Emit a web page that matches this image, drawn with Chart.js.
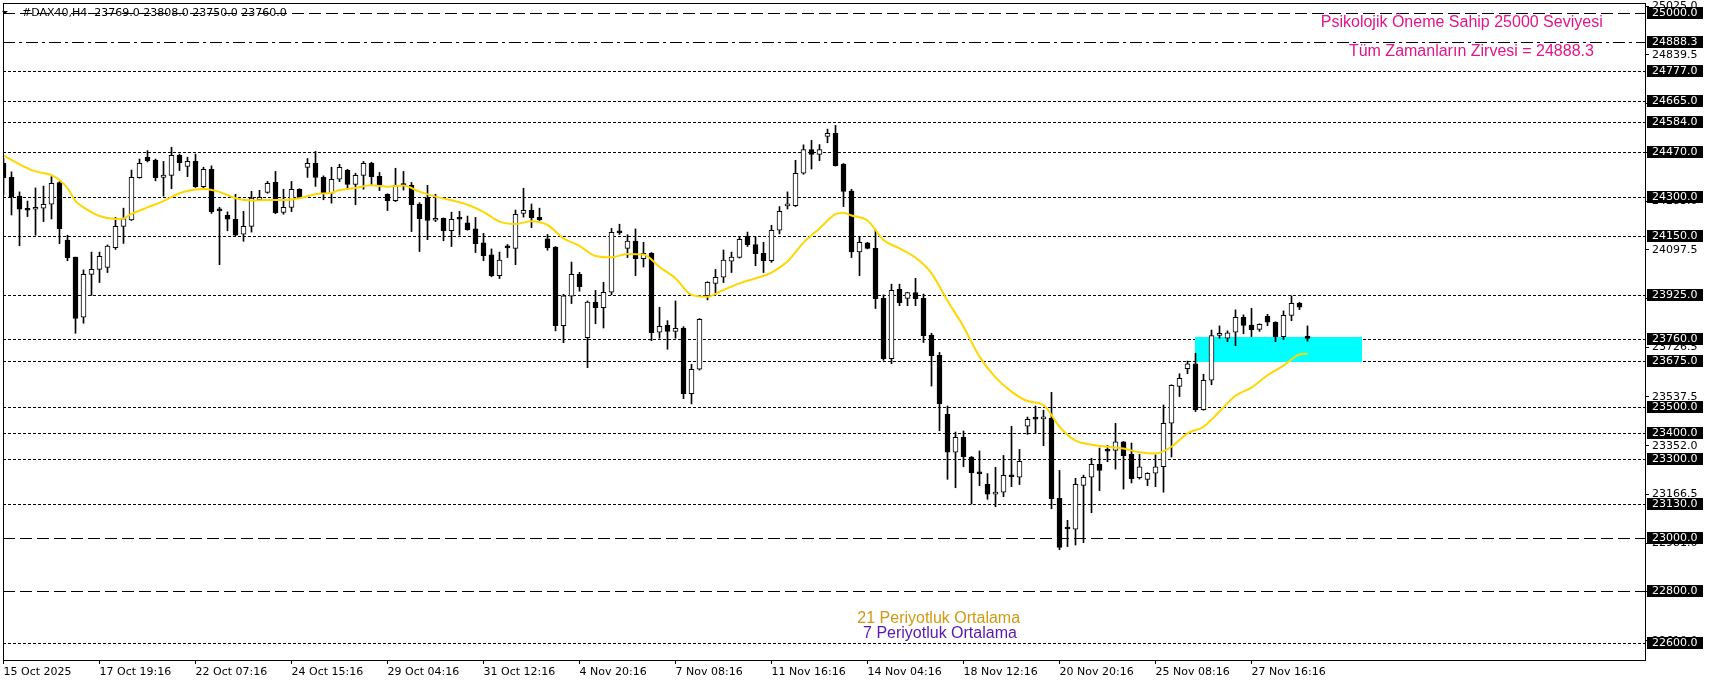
<!DOCTYPE html>
<html>
<head>
<meta charset="utf-8">
<script src="https://cdn.jsdelivr.net/npm/chart.js@4.4.1/dist/chart.umd.min.js"></script>
<style>
  html, body { margin: 0; padding: 0; background: #fff; }
</style>
</head>
<body>
<canvas id="chart" width="1709" height="684"></canvas>
<script>
// #DAX40 H4 candles, 15 Oct - 28 Nov 2025
const opens = [
  24427, 24373, 24302, 24250, 24252, 24256, 24271, 24353, 24135, 24070,
  23841, 24004, 24023, 24031, 24106, 24187, 24211, 24372, 24450, 24439,
  24373, 24381, 24457, 24415, 24434, 24338, 24404, 24248, 24229, 24214,
  24157, 24187, 24288, 24316, 24354, 24240, 24259, 24328, 24411, 24427,
  24373, 24313, 24366, 24400, 24346, 24381, 24427, 24377, 24309, 24285,
  24347, 24343, 24272, 24294, 24210, 24217, 24170, 24216, 24200, 24177,
  24124, 24078, 23999, 24107, 24103, 24236, 24249, 24221, 24139, 24108,
  23809, 23921, 24004, 23763, 23899, 23877, 23936, 24164, 24103, 24131,
  24064, 24085, 23784, 23810, 23787, 23800, 23550, 23643, 23923, 23970,
  23993, 24054, 24069, 24150, 24117, 24084, 24056, 24172, 24265, 24266,
  24389, 24479, 24461, 24529, 24541, 24424, 24321, 24090, 24124, 24103,
  23913, 23683, 23947, 23913, 23935, 23913, 23772, 23696, 23471, 23327,
  23384, 23309, 23247, 23205, 23168, 23175, 23236, 23232, 23426, 23455,
  23454, 23457, 23152, 23037, 23034, 23201, 23232, 23281, 23333, 23334,
  23367, 23319, 23230, 23224, 23247, 23272, 23438, 23578, 23645, 23664,
  23489, 23601, 23772, 23761, 23784, 23841, 23811, 23795, 23844, 23822,
  23767, 23848, 23894, 23769
];
const highs = [
  24446, 24394, 24318, 24283, 24333, 24340, 24376, 24357, 24153, 24070,
  24021, 24089, 24089, 24116, 24221, 24256, 24401, 24443, 24475, 24443,
  24434, 24488, 24462, 24450, 24462, 24412, 24417, 24259, 24242, 24309,
  24244, 24320, 24324, 24358, 24396, 24328, 24358, 24330, 24445, 24472,
  24379, 24412, 24423, 24404, 24389, 24434, 24431, 24392, 24311, 24408,
  24396, 24354, 24277, 24343, 24309, 24219, 24241, 24244, 24226, 24221,
  24160, 24101, 24089, 24118, 24249, 24332, 24272, 24256, 24156, 24110,
  23928, 24051, 24012, 23903, 23943, 23974, 24179, 24195, 24155, 24177,
  24126, 24087, 23879, 23828, 23903, 23805, 23662, 23836, 23976, 24023,
  24097, 24089, 24148, 24165, 24146, 24126, 24191, 24262, 24318, 24438,
  24497, 24514, 24498, 24557, 24571, 24426, 24328, 24146, 24126, 24173,
  23926, 23967, 23967, 23936, 23989, 23929, 23780, 23707, 23503, 23404,
  23408, 23311, 23332, 23246, 23270, 23315, 23426, 23338, 23461, 23503,
  23487, 23555, 23258, 23068, 23228, 23240, 23304, 23343, 23353, 23437,
  23368, 23362, 23319, 23249, 23317, 23507, 23584, 23626, 23674, 23704,
  23624, 23792, 23808, 23789, 23869, 23850, 23875, 23816, 23852, 23824,
  23865, 23922, 23898, 23808
];
const lows = [
  24306, 24230, 24113, 24224, 24153, 24205, 24215, 24121, 24056, 23780,
  23818, 23924, 23973, 24011, 24099, 24122, 24209, 24370, 24432, 24360,
  24302, 24330, 24399, 24376, 24335, 24332, 24236, 24041, 24170, 24151,
  24130, 24165, 24285, 24313, 24235, 24233, 24243, 24292, 24373, 24339,
  24288, 24275, 24357, 24329, 24269, 24328, 24346, 24323, 24247, 24281,
  24325, 24167, 24091, 24136, 24205, 24132, 24110, 24153, 24172, 24087,
  24056, 23995, 23988, 24068, 24041, 24222, 24182, 24209, 24096, 23789,
  23744, 23893, 23940, 23649, 23816, 23800, 23926, 24156, 24068, 23999,
  24032, 23752, 23761, 23719, 23761, 23531, 23511, 23640, 23907, 23926,
  23973, 24011, 24066, 24110, 24037, 24011, 24050, 24158, 24253, 24262,
  24385, 24405, 24437, 24505, 24416, 24262, 24068, 23999, 24101, 23874,
  23677, 23664, 23885, 23885, 23885, 23745, 23579, 23409, 23224, 23192,
  23272, 23130, 23200, 23148, 23120, 23158, 23196, 23204, 23395, 23399,
  23352, 23112, 22956, 22968, 22974, 22983, 23097, 23181, 23291, 23263,
  23187, 23210, 23225, 23200, 23196, 23175, 23309, 23539, 23626, 23482,
  23487, 23584, 23761, 23748, 23733, 23778, 23767, 23787, 23809, 23748,
  23756, 23828, 23870, 23750
];
const closes = [
  24372, 24300, 24252, 24248, 24253, 24271, 24351, 24178, 24068, 23836,
  24004, 24023, 24073, 24112, 24187, 24216, 24373, 24427, 24437, 24372,
  24382, 24457, 24429, 24434, 24338, 24404, 24243, 24246, 24214, 24153,
  24187, 24294, 24297, 24351, 24239, 24259, 24328, 24294, 24427, 24373,
  24313, 24366, 24411, 24346, 24381, 24427, 24376, 24343, 24285, 24343,
  24342, 24269, 24216, 24209, 24217, 24170, 24214, 24214, 24174, 24121,
  24075, 23999, 24058, 24105, 24233, 24248, 24219, 24211, 24106, 23809,
  23922, 24004, 23957, 23899, 23877, 23936, 24164, 24162, 24131, 24064,
  24084, 23782, 23806, 23787, 23799, 23550, 23643, 23833, 23974, 23993,
  24058, 24070, 24137, 24117, 24083, 24056, 24172, 24244, 24267, 24389,
  24479, 24461, 24479, 24541, 24418, 24320, 24090, 24126, 24103, 23912,
  23683, 23943, 23896, 23935, 23912, 23771, 23695, 23512, 23327, 23384,
  23310, 23249, 23245, 23168, 23170, 23239, 23234, 23293, 23452, 23453,
  23456, 23150, 22965, 23035, 23205, 23232, 23281, 23258, 23331, 23367,
  23314, 23227, 23272, 23247, 23272, 23437, 23582, 23608, 23664, 23489,
  23601, 23771, 23780, 23782, 23841, 23810, 23794, 23814, 23822, 23767,
  23848, 23894, 23879, 23760
];

// 21-period average, read at every other bar
const maIdx = [
  0, 2, 4, 6, 7, 8, 9, 10, 12, 14, 15, 16, 18, 20, 22, 24, 25, 27, 29, 31,
  33, 35, 37, 39, 41, 42, 44, 46, 48, 50, 52, 54, 56, 58, 60, 62, 64, 66, 68, 70,
  72, 74, 76, 78, 80, 82, 84, 86, 88, 90, 92, 94, 96, 98, 100, 102, 104, 105, 106, 108,
  110, 112, 114, 116, 118, 120, 122, 124, 126, 128, 130, 132, 134, 136, 138, 140, 142, 144, 146, 148,
  150, 152, 154, 156, 158, 160, 162, 163
];
const maVals = [
  24457, 24423, 24396, 24382, 24363, 24332, 24283, 24259, 24226, 24215, 24217, 24234, 24259, 24283, 24313, 24327, 24329, 24318, 24294, 24285,
  24287, 24287, 24294, 24309, 24315, 24325, 24333, 24343, 24338, 24342, 24319, 24300, 24286, 24269, 24242, 24205, 24196, 24206, 24192, 24141,
  24113, 24074, 24069, 24082, 24080, 24032, 23989, 23926, 23919, 23945, 23970, 23989, 24011, 24053, 24125, 24179, 24233, 24239, 24228, 24209,
  24135, 24103, 24068, 24008, 23904, 23805, 23691, 23612, 23558, 23522, 23507, 23424, 23371, 23356, 23348, 23341, 23327, 23322, 23348, 23399,
  23424, 23482, 23542, 23573, 23620, 23657, 23699, 23702
];

const xTickIdx = [0, 12, 24, 36, 48, 60, 72, 84, 96, 108, 120, 132, 144, 156];
const xTickLabels = [
  '15 Oct 2025', '17 Oct 19:16', '22 Oct 07:16', '24 Oct 15:16', '29 Oct 04:16',
  '31 Oct 12:16', '4 Nov 20:16', '7 Nov 08:16', '11 Nov 16:16', '14 Nov 04:16',
  '18 Nov 12:16', '20 Nov 20:16', '25 Nov 08:16', '27 Nov 16:16'
];
const yTicks = [
  25025.0, 24839.5, 24654.0, 24468.5, 24283.0, 24097.5, 23912.0, 23726.5,
  23537.5, 23352.0, 23166.5, 22981.0, 22795.5, 22610.0
];

// horizontal levels
const levelsDash = [25000.0, 23000.0, 22800.0];
const levelsDashDot = [24888.3];
const levelsDot = [
  24777.0, 24665.0, 24584.0, 24470.0, 24300.0, 24150.0, 23925.0, 23760.0,
  23675.0, 23500.0, 23400.0, 23300.0, 23130.0, 22600.0
];

// support zone (bar index range, price range)
const zoneBars = [148.9, 169.75];
const zonePrices = [23670, 23765];

const header = '#DAX40,H4  23769.0 23808.0 23750.0 23760.0';

const notes = [
  { text: 'Psikolojik Öneme Sahip 25000 Seviyesi', bar: 199.9, price: 24962, color: '#e0168c', align: 'right' },
  { text: 'Tüm Zamanların Zirvesi = 24888.3', bar: 198.8, price: 24853, color: '#e0168c', align: 'right' },
  { text: '21 Periyotluk Ortalama', bar: 116.9, price: 22694, color: '#cf9a12', align: 'center' },
  { text: '7 Periyotluk Ortalama', bar: 117.06, price: 22638, color: '#5a18b0', align: 'center' },
];

const idx = opens.map((_, i) => i);
const bodyData = idx.map(i => ({ x: i, y: [Math.min(opens[i], closes[i]), Math.max(opens[i], closes[i])] }));
const wickData = idx.map(i => ({ x: i, y: [lows[i], highs[i]] }));
const bodyColors = idx.map(i => (closes[i] >= opens[i] ? '#ffffff' : '#000000'));
const maData = maIdx.map((x, i) => ({ x: x, y: maVals[i] }));

const axisFont = { family: 'DejaVu Sans', size: 11 };

const overlay = {
  id: 'overlay',
  beforeDatasetsDraw(chart) {
    const { ctx, chartArea: a, scales: { x, y } } = chart;
    ctx.save();
    ctx.strokeStyle = '#000';
    ctx.lineWidth = 1;
    const drawLevel = (v, dash) => {
      const py = Math.round(y.getPixelForValue(v)) + 0.5;
      ctx.setLineDash(dash);
      ctx.beginPath();
      ctx.moveTo(a.left, py);
      ctx.lineTo(a.right, py);
      ctx.stroke();
    };
    levelsDot.forEach(v => drawLevel(v, [3, 2]));
    levelsDash.forEach(v => drawLevel(v, [12, 5]));
    levelsDashDot.forEach(v => drawLevel(v, [12, 4, 3, 4]));
    ctx.setLineDash([]);

    // zone
    const zx0 = x.getPixelForValue(zoneBars[0]);
    const zx1 = x.getPixelForValue(zoneBars[1]);
    const zy0 = y.getPixelForValue(zonePrices[1]);
    const zy1 = y.getPixelForValue(zonePrices[0]);
    ctx.fillStyle = '#00ffff';
    ctx.fillRect(Math.round(zx0), Math.round(zy0), Math.round(zx1 - zx0), Math.round(zy1 - zy0));
    ctx.restore();
  },
  afterDraw(chart) {
    const { ctx, chartArea: a, scales: { x, y } } = chart;
    ctx.save();

    // header
    ctx.fillStyle = '#000';
    ctx.beginPath();
    ctx.moveTo(2, 11);
    ctx.lineTo(8, 11);
    ctx.lineTo(5, 14);
    ctx.closePath();
    ctx.fill();
    ctx.font = '11px "DejaVu Sans"';
    ctx.textBaseline = 'middle';
    ctx.textAlign = 'left';
    ctx.fillText(header, 22, y.getPixelForValue(25000));

    // price boxes on the right axis
    const all = levelsDash.concat(levelsDashDot, levelsDot);
    all.forEach(v => {
      const py = Math.round(y.getPixelForValue(v));
      ctx.fillStyle = '#000';
      ctx.fillRect(a.right + 2, py - 6, 56, 12);
      ctx.fillStyle = '#fff';
      ctx.fillText(v.toFixed(1), a.right + 7, py + 0.5);
    });

    // text notes
    ctx.font = '16px "Liberation Sans"';
    notes.forEach(n => {
      ctx.fillStyle = n.color;
      ctx.textAlign = n.align;
      ctx.fillText(n.text, x.getPixelForValue(n.bar), y.getPixelForValue(n.price));
    });

    // frame
    ctx.strokeStyle = '#000';
    ctx.lineWidth = 1;
    ctx.strokeRect(a.left + 0.5, a.top + 0.5, a.right - a.left, a.bottom - a.top);
    ctx.restore();
  }
};

new Chart(document.getElementById('chart'), {
  type: 'bar',
  data: {
    datasets: [
      {
        type: 'line',
        label: '21 Periyotluk Ortalama',
        data: maData,
        borderColor: '#ffd700',
        borderWidth: 2,
        pointRadius: 0,
        cubicInterpolationMode: 'monotone',
        order: 0
      },
      {
        label: 'body',
        data: bodyData,
        backgroundColor: bodyColors,
        borderColor: '#000',
        borderWidth: 1,
        borderSkipped: false,
        barThickness: 5,
        minBarLength: 2,
        grouped: false,
        order: 1
      },
      {
        label: 'wick',
        data: wickData,
        backgroundColor: '#000',
        borderWidth: 0,
        barThickness: 1,
        grouped: false,
        order: 2
      }
    ]
  },
  options: {
    responsive: false,
    animation: false,
    devicePixelRatio: 1,
    layout: { padding: { left: 3, top: 3, right: 0, bottom: 0 }, autoPadding: false },
    plugins: { legend: { display: false }, tooltip: { enabled: false } },
    scales: {
      x: {
        type: 'linear',
        min: -0.0625,
        max: 205.1875,
        offset: false,
        grid: { drawOnChartArea: false, offset: false, tickLength: 4, color: '#000' },
        border: { color: '#000' },
        afterBuildTicks: s => { s.ticks = xTickIdx.map(v => ({ value: v })); },
        afterFit: s => { s.height = 24; s.paddingLeft = 0; s.paddingRight = 0; },
        ticks: {
          autoSkip: false,
          maxRotation: 0,
          align: 'start',
          padding: 2,
          color: '#000',
          font: axisFont,
          callback: (v, i) => xTickLabels[i]
        }
      },
      y: {
        position: 'right',
        min: 22536.4,
        max: 25036.9,
        grid: { drawOnChartArea: false, tickLength: 4, color: '#000' },
        border: { color: '#000' },
        afterBuildTicks: s => { s.ticks = yTicks.map(v => ({ value: v })); },
        afterFit: s => { s.width = 64; s.paddingTop = 0; s.paddingBottom = 0; },
        ticks: {
          autoSkip: false,
          padding: 3,
          color: '#000',
          font: axisFont,
          callback: v => v.toFixed(1)
        }
      }
    }
  },
  plugins: [overlay]
});
</script>
</body>
</html>
